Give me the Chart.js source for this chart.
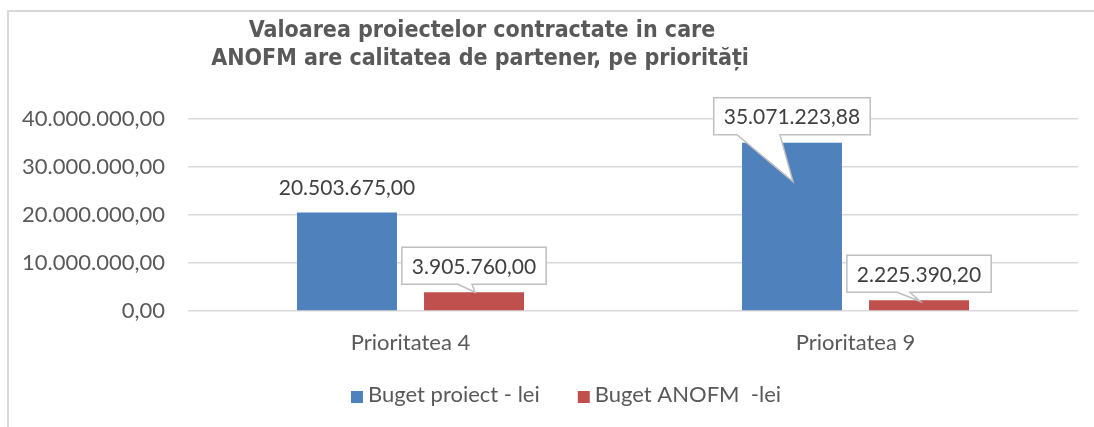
<!DOCTYPE html>
<html>
<head>
<meta charset="utf-8">
<script src="https://cdn.jsdelivr.net/npm/chart.js@4"></script>
<style>
  html, body { margin: 0; padding: 0; background: #fff; }
  #wrap { position: relative; width: 1094px; height: 427px; overflow: hidden; }
  #frame { position: absolute; left: 7px; top: 10px; width: 1200px; height: 500px;
           border-left: 2px solid #d9d9d9; border-top: 2px solid #d9d9d9; }
  canvas { position: absolute; left: 0; top: 0; }
</style>
</head>
<body>
<div id="wrap">
  <div id="frame"></div>
  <canvas id="chart" width="1094" height="427"></canvas>
</div>
<script>
// Data
const categories = ['Prioritatea 4', 'Prioritatea 9'];
const bugetProiect = [20503675.00, 35071223.88];
const bugetAnofm = [3905760.00, 2225390.20];
const seriesNames = ['Buget proiect - lei', 'Buget ANOFM  -lei'];
const yTicks = [0, 10000000, 20000000, 30000000, 40000000];
const titleLines = ['Valoarea proiectelor contractate in care', 'ANOFM are calitatea de partener, pe priorități'];

const TEXT = '#595959';
const FONT = 'Lato, "Open Sans", sans-serif';

// 20503675 -> "20.503.675,00"
function fmt(v) {
    const parts = v.toFixed(2).split('.');
    return parts[0].replace(/\B(?=(\d{3})+(?!\d))/g, '.') + ',' + parts[1];
}

// how each value label is drawn (plain text or callout box with pointer)
const labelStyle = [
    [{ box: false, dy: -24 }, { box: true, tipDx: 1, tipDy: 39, base: [-55, -12] }],
    [{ box: true, tipDx: 1, tipDy: 0, base: [-16, -2] }, { box: true, tipDx: 1, tipDy: 1, base: [-22, -9] }]
];

const decorPlugin = {
    id: 'decor',
    afterDatasetsDraw(chart) {
        const ctx = chart.ctx;
        ctx.save();

        // value labels
        ctx.font = '21px ' + FONT;
        ctx.textAlign = 'center';
        ctx.textBaseline = 'middle';
        chart.data.datasets.forEach((ds, di) => {
            chart.getDatasetMeta(di).data.forEach((bar, i) => {
                const st = labelStyle[di][i];
                const txt = fmt(ds.data[i]);
                if (!st.box) {
                    ctx.fillStyle = '#404040';
                    ctx.fillText(txt, bar.x, bar.y + st.dy);
                    return;
                }
                const w = ctx.measureText(txt).width + 20;
                const h = 37;
                const x0 = bar.x - w / 2, x1 = bar.x + w / 2;
                const y1 = bar.y - 8, y0 = y1 - h;
                ctx.beginPath();
                ctx.moveTo(x0, y0);
                ctx.lineTo(x1, y0);
                ctx.lineTo(x1, y1);
                ctx.lineTo(bar.x + st.base[1], y1);
                ctx.lineTo(bar.x + st.tipDx, bar.y + st.tipDy);
                ctx.lineTo(bar.x + st.base[0], y1);
                ctx.lineTo(x0, y1);
                ctx.closePath();
                ctx.fillStyle = '#fff';
                ctx.fill();
                ctx.strokeStyle = '#bfbfbf';
                ctx.lineWidth = 1.5;
                ctx.stroke();
                ctx.fillStyle = '#404040';
                ctx.fillText(txt, bar.x, (y0 + y1) / 2 + 1);
            });
        });

        // title
        ctx.fillStyle = TEXT;
        ctx.font = 'bold 23px "DejaVu Sans Condensed", "DejaVu Sans", sans-serif';
        ctx.textBaseline = 'alphabetic';
        ctx.fillText(titleLines[0], 482, 37);
        ctx.fillText(titleLines[1], 480, 65);

        // legend
        ctx.font = '22px ' + FONT;
        ctx.textAlign = 'left';
        let x = 351;
        chart.data.datasets.forEach(ds => {
            ctx.fillStyle = ds.backgroundColor;
            ctx.fillRect(x, 391, 12, 12);
            ctx.fillStyle = TEXT;
            ctx.fillText(ds.label, x + 17, 402);
            x += 17 + ctx.measureText(ds.label).width + 38;
        });
        ctx.restore();
    }
};

new Chart(document.getElementById('chart'), {
    type: 'bar',
    data: {
        labels: categories,
        datasets: [
            { label: seriesNames[0], data: bugetProiect, backgroundColor: '#4f81bd',
              categoryPercentage: 0.571, barPercentage: 0.787 },
            { label: seriesNames[1], data: bugetAnofm, backgroundColor: '#c0504d',
              categoryPercentage: 0.571, barPercentage: 0.787 }
        ]
    },
    options: {
        responsive: false,
        animation: false,
        devicePixelRatio: 1,
        layout: { padding: { left: 0, top: 119, right: 16, bottom: 40 } },
        plugins: { legend: { display: false }, tooltip: { enabled: false } },
        scales: {
            x: {
                grid: { display: false },
                border: { display: false },
                ticks: { color: TEXT, font: { family: FONT, size: 22 }, padding: 11 },
                afterFit: s => { s.height = 427 - 311 - 40; }
            },
            y: {
                min: 0,
                max: yTicks[yTicks.length - 1],
                afterBuildTicks: s => { s.ticks = yTicks.map(v => ({ value: v })); },
                grid: { color: '#d9d9d9', lineWidth: 1.5, drawTicks: false },
                border: { display: false },
                ticks: { color: TEXT, font: { family: FONT, size: 22 }, padding: 23,
                         callback: v => fmt(v) },
                afterFit: s => { s.width = 188; }
            }
        }
    },
    plugins: [decorPlugin]
});
</script>
</body>
</html>
